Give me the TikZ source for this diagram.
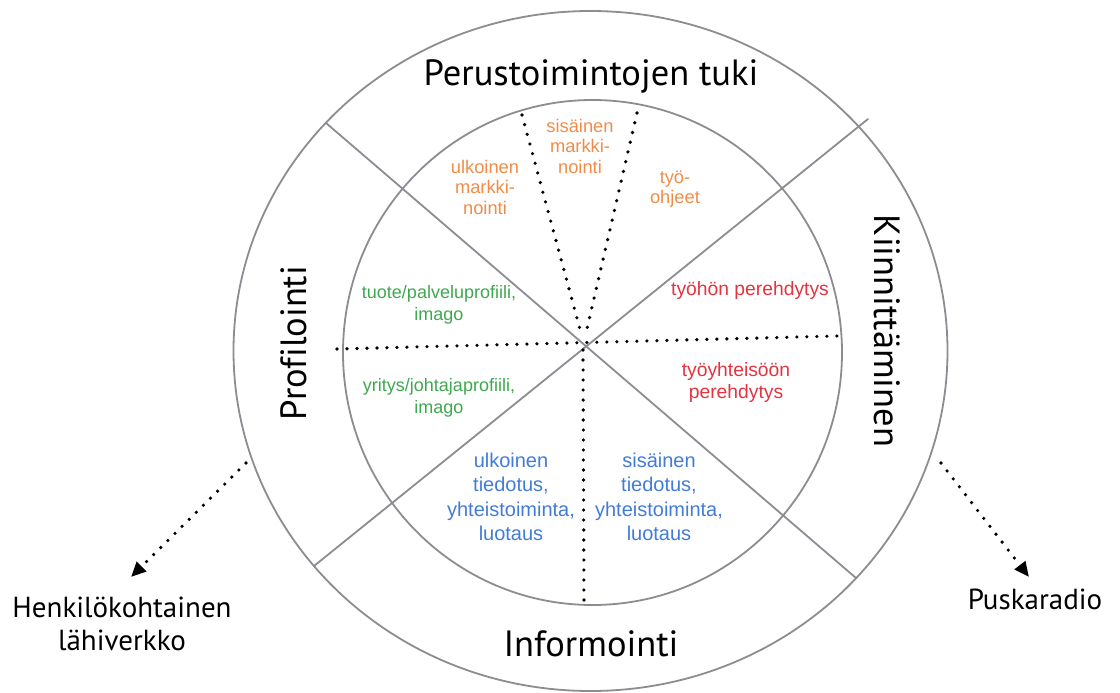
\documentclass[tikz,border=0pt]{standalone}
\usepackage{fontspec}
\setmainfont[Ligatures=NoCommon]{PT Sans}
\newfontfamily\sectorfont{Liberation Sans}
\usepackage{tkz-euclide}
\usetikzlibrary{arrows.meta}
\definecolor{LineClr}{RGB}{140,140,146}
\definecolor{OrangeClr}{RGB}{241,140,72}
\definecolor{GreenClr}{RGB}{62,168,78}
\definecolor{RedClr}{RGB}{228,52,64}
\definecolor{BlueClr}{RGB}{66,124,214}
\tikzset{
  ringline/.style={color=LineClr,line width=1.8pt},
  dotline/.style={line width=3.6pt,line cap=round,dash pattern=on 0pt off 10pt},
  ringtext/.style={font=\fontsize{36.5}{40}\selectfont},
  outtext/.style={font=\fontsize{29}{33}\selectfont,align=center},
  sector/.style={align=center,font=\sectorfont\fontsize{18}{22}\selectfont},
}

\begin{document}
\begin{tikzpicture}[x=1pt,y=-1pt]
\useasboundingbox (0,0) rectangle (1120,693);

\tkzDefPoints{590.5/351/O,592.5/352.5/I,583/348/M}
\tkzDefPoints{326/123/A,856/578/B,868/119/C,314/566/D}
\tkzDefPoints{337/349/H,837/336/K,584/605/V,583/350/W}
\tkzDefPoints{522/115/P,581/333/Q,637/113/R,586/333/S}
\tkzDefPoints{246/463/L,131/577/E,941/463/T,1029/577/F}

% rings
\draw[ringline] (O) ellipse [x radius=357,y radius=340];
\draw[ringline] (I) ellipse [x radius=249.5,y radius=252.5];
\tkzDrawSegments[ringline](A,B C,D)

% dotted sectors
\tkzDrawSegments[dotline](H,K W,V P,Q R,S)

% arrows out
\draw[dotline,-{Triangle[length=15pt,width=13pt]}] (L) -- (E);
\draw[dotline,-{Triangle[length=15pt,width=13pt]}] (T) -- (F);

% ring labels
\node[ringtext,anchor=base] (top) at (591,86) {Perustoimintojen tuki};
\node[ringtext,anchor=base] (bottom) at (591,656) {Informointi};
\node[ringtext,rotate=90] (left) at (294,343) {Profilointi};
\node[ringtext,rotate=-90] (right) at (887,331) {Kiinnittäminen};

% outside labels
\node[outtext] (net) at (122,624) {Henkilökohtainen\\lähiverkko};
\node[outtext,anchor=base] (radio) at (1035,609) {Puskaradio};

% sector labels
\node[sector,OrangeClr,font=\sectorfont\fontsize{18.3}{20.5}\selectfont] (om) at (485,187) {ulkoinen\\markki-\\nointi};
\node[sector,OrangeClr,font=\sectorfont\fontsize{18.3}{20.5}\selectfont] (im) at (580,146) {sisäinen\\markki-\\nointi};
\node[sector,OrangeClr,font=\sectorfont\fontsize{18.3}{20.5}\selectfont] (wo) at (675,189) {työ-\\ohjeet};
\node[sector,GreenClr] (pp) at (439,305) {tuote/palveluprofiili,\\imago};
\node[sector,GreenClr] (cp) at (439,398) {yritys/johtajaprofiili,\\imago};
\node[sector,RedClr,font=\sectorfont\fontsize{19.3}{22}\selectfont] (wi) at (750,291) {työhön perehdytys};
\node[sector,RedClr,font=\sectorfont\fontsize{19.3}{22}\selectfont] (ci) at (736,383) {työyhteisöön\\perehdytys};
\node[sector,BlueClr,font=\sectorfont\fontsize{20}{24.5}\selectfont] (ei) at (511,497) {ulkoinen\\tiedotus,\\yhteistoiminta,\\luotaus};
\node[sector,BlueClr,font=\sectorfont\fontsize{20}{24.5}\selectfont] (ii) at (659,497) {sisäinen\\tiedotus,\\yhteistoiminta,\\luotaus};

\end{tikzpicture}
\end{document}
